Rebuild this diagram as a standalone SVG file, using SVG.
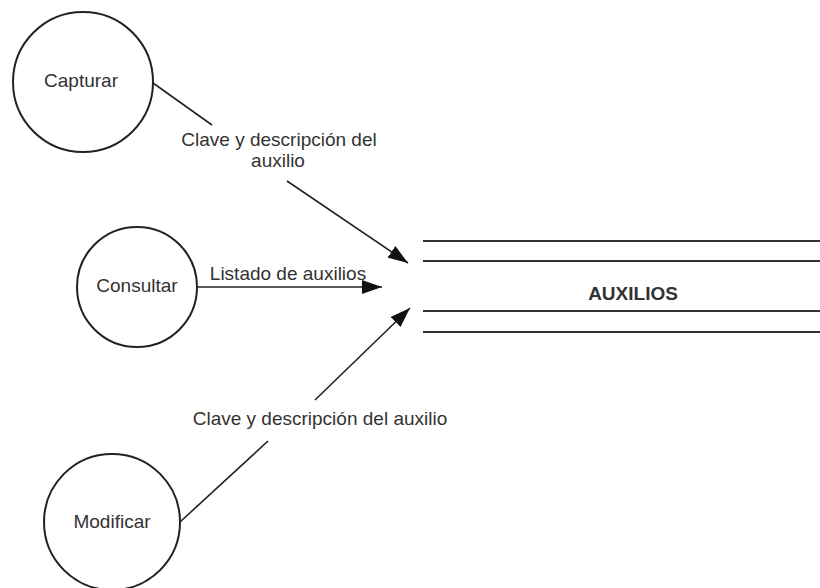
<svg xmlns="http://www.w3.org/2000/svg" width="820" height="588" viewBox="0 0 820 588">
<style>
.proc{fill:#fff;stroke:#222;stroke-width:2}
.lbl{font-family:"Liberation Sans",Arial,sans-serif;font-size:19px;fill:#333;text-anchor:middle}
.conn{stroke:#222;stroke-width:1.6;fill:none}
.store{stroke:#333;stroke-width:2}
</style>
<defs>
<marker id="arr" markerUnits="userSpaceOnUse" markerWidth="22" markerHeight="14" refX="20" refY="7" orient="auto">
<path d="M0,0 L20,7 L0,14 z" fill="#111"/>
</marker>
</defs>
<rect width="820" height="588" fill="#fff"/>
<g id="capturar">
<circle class="proc" cx="83" cy="82" r="70"/>
<text class="lbl" x="81" y="87" font-size="18">Capturar</text>
</g>
<g id="consultar">
<circle class="proc" cx="137" cy="287" r="60"/>
<text class="lbl" x="137" y="292">Consultar</text>
</g>
<g id="modificar">
<circle class="proc" cx="112" cy="522" r="68"/>
<text class="lbl" x="112" y="528">Modificar</text>
</g>
<g id="auxilios">
<line class="store" x1="423" y1="241" x2="820" y2="241"/>
<line class="store" x1="423" y1="261" x2="820" y2="261"/>
<line class="store" x1="423" y1="311" x2="820" y2="311"/>
<line class="store" x1="423" y1="332" x2="820" y2="332"/>
<text class="lbl" x="633" y="300" font-weight="bold">AUXILIOS</text>
</g>
<g id="connectors">
<line class="conn" x1="153" y1="83" x2="212" y2="125"/>
<line class="conn" x1="287" y1="181" x2="408" y2="263" marker-end="url(#arr)"/>
<text class="lbl" x="279" y="146">Clave y descripción del</text>
<text class="lbl" x="278" y="167">auxilio</text>
<line class="conn" x1="198" y1="287" x2="382" y2="287" marker-end="url(#arr)"/>
<text class="lbl" x="288" y="280">Listado de auxilios</text>
<line class="conn" x1="180" y1="522" x2="268" y2="441"/>
<line class="conn" x1="315" y1="400" x2="410" y2="308" marker-end="url(#arr)"/>
<text class="lbl" x="320" y="425">Clave y descripción del auxilio</text>
</g>
</svg>
